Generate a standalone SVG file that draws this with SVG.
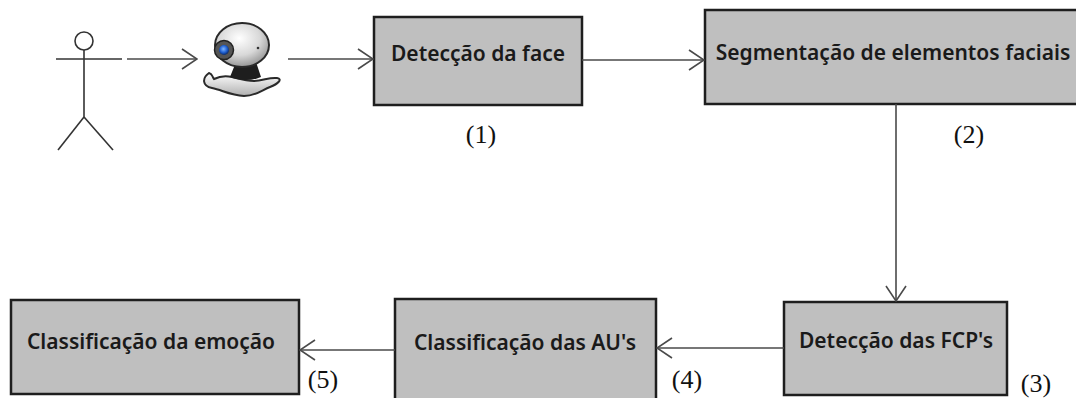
<svg xmlns="http://www.w3.org/2000/svg" width="1076" height="398" viewBox="0 0 1076 398">
  <defs>
    <style>
      .box { fill: #bfbfbf; stroke: #1e1e1e; stroke-width: 2.5; }
      .lbl { font-family: "Noto Sans", "Open Sans", sans-serif; font-size: 21px; font-weight: 600; fill: #1a1a1a; text-anchor: middle; }
      .num { font-family: "Liberation Serif", serif; font-size: 26px; fill: #111; text-anchor: middle; }
      .wire { fill: none; stroke: #4a4a4a; stroke-width: 1.6; }
      .stick { fill: none; stroke: #333; stroke-width: 1.6; }
    </style>
    <marker id="open" viewBox="0 0 17 22" refX="16" refY="11" markerWidth="17" markerHeight="22" markerUnits="userSpaceOnUse" orient="auto">
      <path d="M1,1 L16,11 L1,21" fill="none" stroke="#4a4a4a" stroke-width="1.6"/>
    </marker>
    <radialGradient id="shell" cx="0.45" cy="0.35" r="0.7">
      <stop offset="0" stop-color="#ffffff"/>
      <stop offset="0.55" stop-color="#d8d8d8"/>
      <stop offset="1" stop-color="#8a8a8a"/>
    </radialGradient>
    <radialGradient id="lens" cx="0.45" cy="0.4" r="0.6">
      <stop offset="0" stop-color="#7fb6ff"/>
      <stop offset="0.6" stop-color="#1f5fd0"/>
      <stop offset="1" stop-color="#0b2a66"/>
    </radialGradient>
    <linearGradient id="base" x1="0" y1="0" x2="0" y2="1">
      <stop offset="0" stop-color="#ffffff"/>
      <stop offset="1" stop-color="#b0b0b0"/>
    </linearGradient>
  </defs>

  <!-- user -->
  <g id="user" class="stick">
    <circle cx="84" cy="41" r="9"/>
    <line x1="84" y1="50" x2="84" y2="117"/>
    <line x1="56" y1="59" x2="122" y2="59"/>
    <line x1="84" y1="117" x2="58" y2="150"/>
    <line x1="84" y1="117" x2="113" y2="150"/>
  </g>

  <!-- webcam -->
  <g id="webcam">
    <!-- wavy stand -->
    <path d="M209,73 C202,78 202,86 212,88 C222,90 230,95 244,96 C256,96 262,90 270,87 C278,84 283,79 277,78 C269,77 263,81 254,81 C246,81 240,79 232,77 C224,75 218,77 214,79 C212,77 213,74 209,73 Z" fill="url(#base)" stroke="#2a2a2a" stroke-width="2"/>
    <!-- neck -->
    <path d="M236,62 L256,62 L261,77 C252,81 240,81 230,77 Z" fill="#1e1e1e"/>
    <!-- camera shell -->
    <ellipse cx="242" cy="45" rx="27" ry="22" fill="url(#shell)" stroke="#2a2a2a" stroke-width="2"/>
    <circle cx="224" cy="50" r="9.5" fill="#555" stroke="#222" stroke-width="1.5"/>
    <circle cx="224" cy="50" r="5" fill="url(#lens)"/>
    <circle cx="258" cy="48" r="1.3" fill="#333"/>
  </g>

  <!-- processing stages -->
  <g id="n1">
    <rect class="box" x="374" y="17" width="208" height="88"/>
    <text class="lbl" x="478" y="61">Detecção da face</text>
  </g>
  <g id="n2">
    <rect class="box" x="705" y="10" width="380" height="94"/>
    <text class="lbl" x="893" y="60">Segmentação de elementos faciais</text>
  </g>
  <g id="n3">
    <rect class="box" x="784" y="302" width="223" height="93"/>
    <text class="lbl" x="896" y="348">Detecção das FCP's</text>
  </g>
  <g id="n4">
    <rect class="box" x="395" y="299" width="261" height="110"/>
    <text class="lbl" x="525" y="350">Classificação das AU's</text>
  </g>
  <g id="n5">
    <rect class="box" x="11" y="300" width="288" height="94"/>
    <text class="lbl" x="151" y="349">Classificação da emoção</text>
  </g>

  <!-- step numbers -->
  <g id="steps">
    <text class="num" x="481" y="143">(1)</text>
    <text class="num" x="969" y="143">(2)</text>
    <text class="num" x="1036" y="392">(3)</text>
    <text class="num" x="687" y="388">(4)</text>
    <text class="num" x="323" y="388">(5)</text>
  </g>

  <!-- connectors -->
  <g id="connectors" class="wire">
    <line x1="127" y1="59" x2="197" y2="59" marker-end="url(#open)"/>
    <line x1="288" y1="59" x2="373" y2="59" marker-end="url(#open)"/>
    <line x1="582" y1="60" x2="704" y2="60" marker-end="url(#open)"/>
    <line x1="896" y1="104" x2="896" y2="301" marker-end="url(#open)"/>
    <line x1="784" y1="348" x2="657" y2="348" marker-end="url(#open)"/>
    <line x1="395" y1="350" x2="300" y2="350" marker-end="url(#open)"/>
  </g>
</svg>
